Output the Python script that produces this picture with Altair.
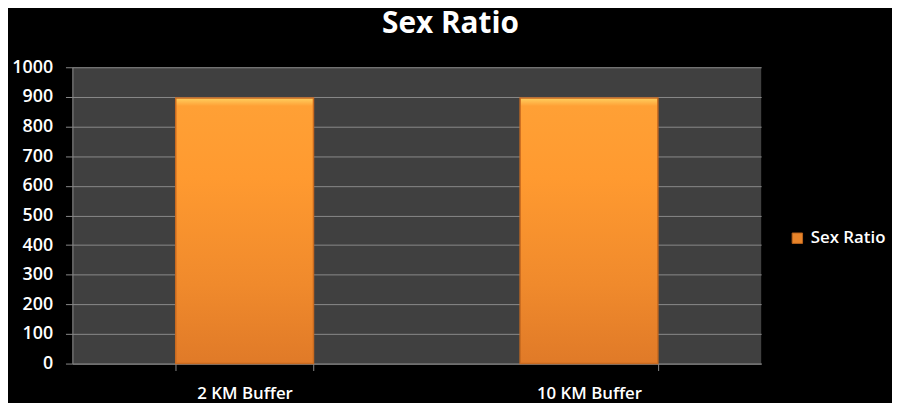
import altair as alt
import pandas as pd

categories = ["2 KM Buffer", "10 KM Buffer"]
values = [896, 896]
series = ["Sex Ratio", "Sex Ratio"]
y_ticks = [0, 100, 200, 300, 400, 500, 600, 700, 800, 900, 1000]

df = pd.DataFrame({"Buffer": categories, "Value": values, "Series": series})

FONT = "Open Sans"

x_enc = alt.X("Buffer:N", sort=categories,
              scale=alt.Scale(paddingInner=0.6, paddingOuter=0.3),
              axis=alt.Axis(title=None, labelAngle=0, tickBand="extent",
                            labelColor="#ffffff", labelFont=FONT, labelFontSize=17,
                            labelFontWeight=600, labelPadding=15,
                            domainColor="#8a8a8a", tickColor="#8a8a8a",
                            tickSize=7, grid=False))
y_enc = alt.Y("Value:Q", scale=alt.Scale(domain=[0, 1000], nice=False),
              axis=alt.Axis(title=None, values=y_ticks, format="d",
                            labelColor="#ffffff", labelFont=FONT, labelFontSize=18,
                            labelFontWeight=600, labelPadding=13,
                            domainColor="#8a8a8a", tickColor="#8a8a8a", tickSize=7,
                            gridColor="#8a8a8a", gridWidth=1))

base_bars = alt.Chart(df).mark_bar().encode(
    x=x_enc, y=y_enc,
    color=alt.Color("Series:N", scale=alt.Scale(range=["#E8842A"]),
                    legend=alt.Legend(title=None, orient="none", legendX=723, legendY=164,
                                      symbolType="square", symbolSize=110,
                                      symbolStrokeColor="#B8621C", symbolStrokeWidth=1,
                                      labelColor="#ffffff", labelFont=FONT,
                                      labelFontSize=17, labelFontWeight=600,
                                      labelOffset=5)),
)

grad_bars = alt.Chart(df).mark_bar(
    color=alt.Gradient(gradient="linear", x1=0, x2=0, y1=0, y2=1,
                       stops=[alt.GradientStop(color="#FFD060", offset=0),
                              alt.GradientStop(color="#FFA035", offset=0.03),
                              alt.GradientStop(color="#FF9A30", offset=0.3),
                              alt.GradientStop(color="#F08A2C", offset=0.7),
                              alt.GradientStop(color="#E07A28", offset=1)]),
    stroke="#C86A20", strokeWidth=1.5,
).encode(x=x_enc, y=y_enc)

chart = alt.layer(base_bars, grad_bars).properties(
    width=695, height=299,
    padding={"left": 65, "top": 58, "right": 132, "bottom": 40},
    autosize=alt.AutoSizeParams(type="none"),
    background="#000000",
    title=alt.TitleParams("Sex Ratio", color="#ffffff", font=FONT, fontSize=30,
                          fontWeight="bold", anchor="middle", baseline="alphabetic",
                          offset=-4, dx=34),
).configure_view(fill="#404040", stroke=None)

chart.save("out.html", embed_options={"renderer": "svg", "actions": False})
